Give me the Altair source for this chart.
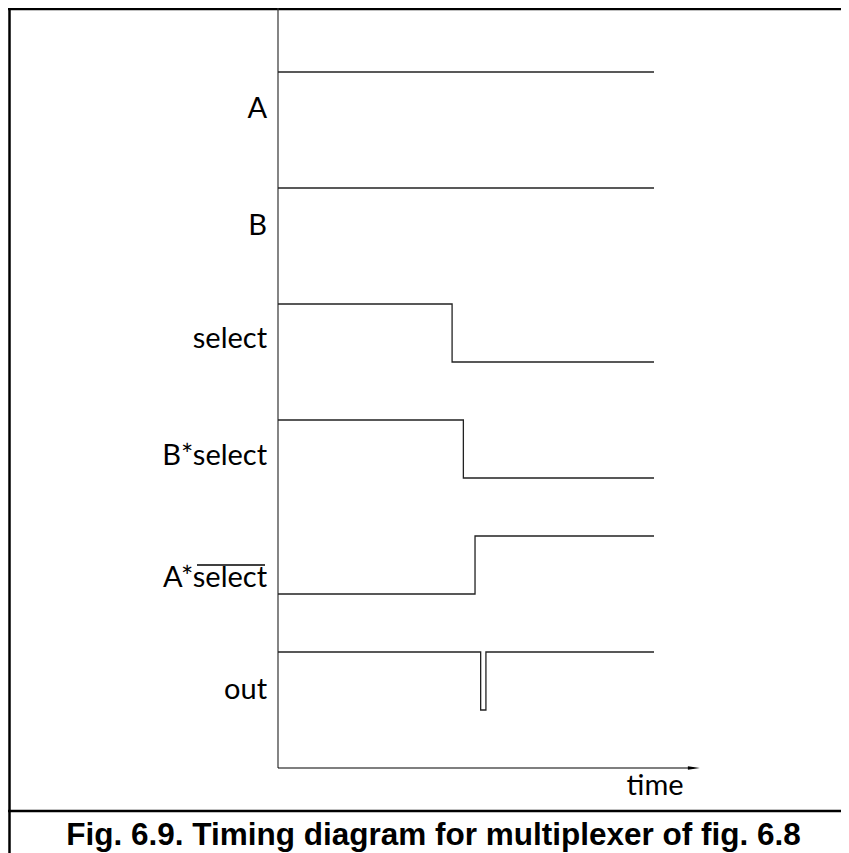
import altair as alt
import pandas as pd

# ---- data ----
signals = ["A", "B", "select", "B*select", "A*select", "out"]
sig_times = {
    "A": [0, 100],
    "B": [0, 100],
    "select": [0, 46.3, 100],
    "B*select": [0, 49.3, 100],
    "A*select": [0, 52.4, 100],
    "out": [0, 53.9, 55.3, 100],
}
sig_levels = {
    "A": [1, 1],
    "B": [1, 1],
    "select": [1, 0, 0],
    "B*select": [1, 0, 0],
    "A*select": [0, 1, 1],
    "out": [1, 0, 1, 1],
}
label_texts = ["A", "B", "select", "B*select", "A*select", "out"]
label_levels = [0.37, 0.34, 0.40, 0.38, 0.27, 0.35]
axis_label = "time"
caption = "Fig. 6.9. Timing diagram for multiplexer of fig. 6.8"

# ---- tables ----
rows = []
for i, s in enumerate(signals):
    base = (5 - i) * 2
    for t, lv in zip(sig_times[s], sig_levels[s]):
        rows.append({"signal": s, "t": t, "y": base + lv})
wave = pd.DataFrame(rows)

labels = pd.DataFrame({
    "text": label_texts,
    "t": [-2.9] * len(label_texts),
    "y": [(5 - i) * 2 + lv for i, lv in enumerate(label_levels)],
})

xs = alt.Scale(domain=[0, 100], range=[270, 646], nice=False, zero=False)
ys = alt.Scale(domain=[0, 11], range=[702, 64], nice=False, zero=False)
X = lambda f: alt.X(f, scale=xs, axis=None)
Y = lambda f: alt.Y(f, scale=ys, axis=None)

LABEL_FONT = "Lato, sans-serif"

waves = alt.Chart(wave).mark_line(interpolate="step-after", color="#222", strokeWidth=1.3).encode(
    x=X("t:Q"), y=Y("y:Q"), detail="signal:N"
)

lab = alt.Chart(labels).mark_text(align="right", baseline="middle", font=LABEL_FONT,
                                  fontSize=29, color="black").encode(
    x=X("t:Q"), y=Y("y:Q"), text="text:N"
)

yaxis = alt.Chart(pd.DataFrame({"t": [0], "y1": [-1.0], "y2": [12.3]})).mark_rule(
    color="#333", strokeWidth=1.2).encode(x=X("t:Q"), y=Y("y1:Q"), y2="y2:Q")

xaxis = alt.Chart(pd.DataFrame({"t1": [0], "t2": [110.5], "y": [-1.0]})).mark_rule(
    color="black", strokeWidth=1.2).encode(x=X("t1:Q"), x2="t2:Q", y=Y("y:Q"))

arrow = alt.Chart(pd.DataFrame({"t": [110.6], "y": [-1.0]})).mark_point(
    shape="M-1,-0.3L1,0L-1,0.3Z", size=144, filled=True, color="black", opacity=1).encode(
    x=X("t:Q"), y=Y("y:Q"))

tlabel = alt.Chart(pd.DataFrame({"t": [100.3], "y": [-1.31], "text": [axis_label]})).mark_text(
    align="center", baseline="middle", font=LABEL_FONT, fontSize=29, color="black").encode(
    x=X("t:Q"), y=Y("y:Q"), text="text:N")

one = pd.DataFrame({"d": [0]})
overline = alt.Chart(one).mark_rule(color="black", strokeWidth=1.5).encode(
    x=alt.value(189), x2=alt.value(257), y=alt.value(557))

frame_top = alt.Chart(one).mark_rule(color="black", strokeWidth=2.5).encode(
    x=alt.value(0), x2=alt.value(833), y=alt.value(1))
frame_left = alt.Chart(one).mark_rule(color="black", strokeWidth=2.5).encode(
    x=alt.value(1.5), y=alt.value(0), y2=alt.value(845))
frame_div = alt.Chart(one).mark_rule(color="black", strokeWidth=2.5).encode(
    x=alt.value(0), x2=alt.value(833), y=alt.value(803))

cap = alt.Chart(pd.DataFrame({"text": [caption]})).mark_text(
    align="center", baseline="alphabetic", font="Liberation Sans, Arial, sans-serif",
    fontSize=31.5, fontWeight="bold", color="black").encode(
    x=alt.value(425.5), y=alt.value(837), text="text:N")

chart = alt.layer(
    frame_top, frame_left, frame_div, yaxis, xaxis, arrow, waves, lab, overline, tlabel, cap
).properties(
    width=833, height=845, autosize=alt.AutoSizeParams(type="none"), padding=0,
    background="white"
).configure_view(strokeWidth=0)

chart.save("out.html", embed_options={"renderer": "svg", "actions": False})
